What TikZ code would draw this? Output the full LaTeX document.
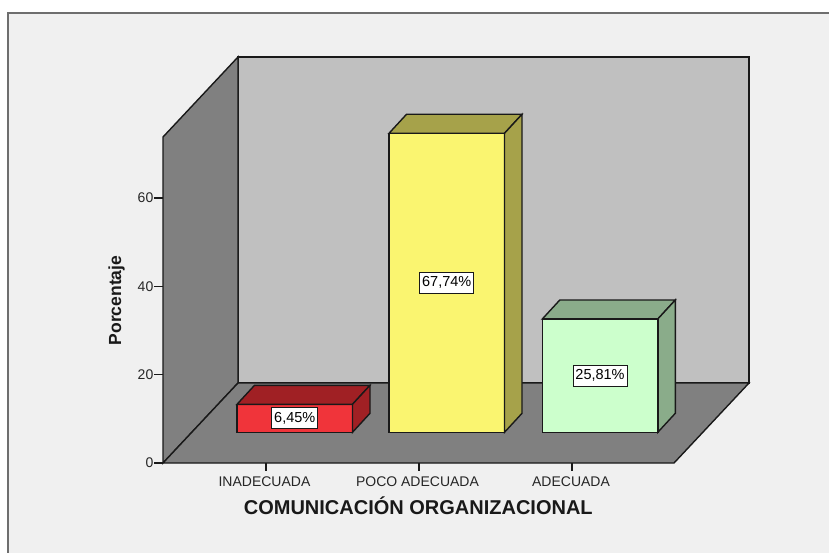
\documentclass[tikz,border=0pt]{standalone}
\usepackage{fontspec}
\setmainfont{Liberation Sans}
\definecolor{bgpanel}{RGB}{240,240,240}
\definecolor{backwall}{RGB}{192,192,192}
\definecolor{sidewall}{RGB}{128,128,128}
\definecolor{framegray}{RGB}{110,110,110}
\definecolor{edgecol}{RGB}{25,25,25}
\definecolor{redF}{RGB}{240,52,58}
\definecolor{redS}{RGB}{160,32,36}
\definecolor{yelF}{RGB}{250,245,112}
\definecolor{yelS}{RGB}{166,162,74}
\definecolor{grnF}{RGB}{204,255,204}
\definecolor{grnS}{RGB}{138,172,138}
\tikzset{
  edge/.style={draw=edgecol, line width=1.4pt, line join=miter},
  datalabel/.style={draw=edgecol, fill=white, line width=0.9pt, inner xsep=2.5pt, inner ysep=0pt, minimum height=21pt, font=\fontsize{14.5}{15}\selectfont},
  ticklab/.style={font=\fontsize{14}{15}\selectfont, text=black!85},
  catlab/.style={font=\fontsize{14}{15}\selectfont, text=black!85, anchor=base},
}
\newcommand{\mybar}[5]{% x0, ytop, front colour, side colour, name
  \fill[#3] (#1,#2) rectangle (#1+115.5,432.3);
  \filldraw[#4, edge] (#1,#2) -- (#1+17.5,#2-19) -- (#1+133,#2-19) -- (#1+115.5,#2) -- cycle;
  \filldraw[#4, edge] (#1+115.5,#2) -- (#1+133,#2-19) -- (#1+133,413.3) -- (#1+115.5,432.3) -- cycle;
  \draw[edge] (#1,#2) rectangle (#1+115.5,432.3);
  \coordinate (#5) at (#1+57.75,{(#2+432.3)/2});
}
\begin{document}
\begin{tikzpicture}[x=1pt,y=-1pt]
\useasboundingbox (0,0) rectangle (829,553);
\fill[white] (0,0) rectangle (829,553);
% outer panel
\filldraw[fill=bgpanel, draw=framegray, line width=1.5pt] (8,13) -- (832,13) -- (832,556) -- (8,556) -- cycle;
% walls
\filldraw[fill=backwall, edge] (238,57) -- (749,57) -- (749,383) -- (238,383) -- cycle;
\filldraw[fill=sidewall, edge] (163,463) -- (163,137) -- (238,57) -- (238,383) -- cycle;
\filldraw[fill=sidewall, edge] (163,463) -- (238,383) -- (749,383) -- (674,463) -- cycle;
% y axis ticks
\foreach \v/\yy in {0/463,20/374.7,40/286.4,60/198.1} {
  \draw[edgecol, line width=1.2pt] (154,\yy) -- (163,\yy);
  \node[ticklab, anchor=east, inner sep=0pt] (yt\v) at (153.5,\yy) {\v};
}
% category ticks
\coordinate (c1) at (266,463);
\coordinate (c2) at (419,463);
\coordinate (c3) at (572,463);
\foreach \c in {c1,c2,c3} \draw[edgecol, line width=1.2pt] (\c) -- ++(0,8);
\node[catlab] (l1) at (264.5,486) {INADECUADA};
\node[catlab] (l2) at (417.5,486) {POCO ADECUADA};
\node[catlab] (l3) at (571,486) {ADECUADA};
% bars
\mybar{237}{404.3}{redF}{redS}{b1}
\mybar{389}{133.3}{yelF}{yelS}{b2}
\mybar{542.3}{319}{grnF}{grnS}{b3}
\node[datalabel] (d1) at (b1) {6,45\%};
\node[datalabel] (d2) at (b2) {67,74\%};
\node[datalabel] (d3) at (b3) {25,81\%};
% axis titles
\node[font=\bfseries\fontsize{17.5}{18}\selectfont, rotate=90, text=black!90] (ytitle) at (116.5,300.5) {Porcentaje};
\node[font=\bfseries\fontsize{20}{21}\selectfont, anchor=base, text=black!90] (xtitle) at (418.3,514.8) {COMUNICACIÓN ORGANIZACIONAL};
\end{tikzpicture}
\end{document}
